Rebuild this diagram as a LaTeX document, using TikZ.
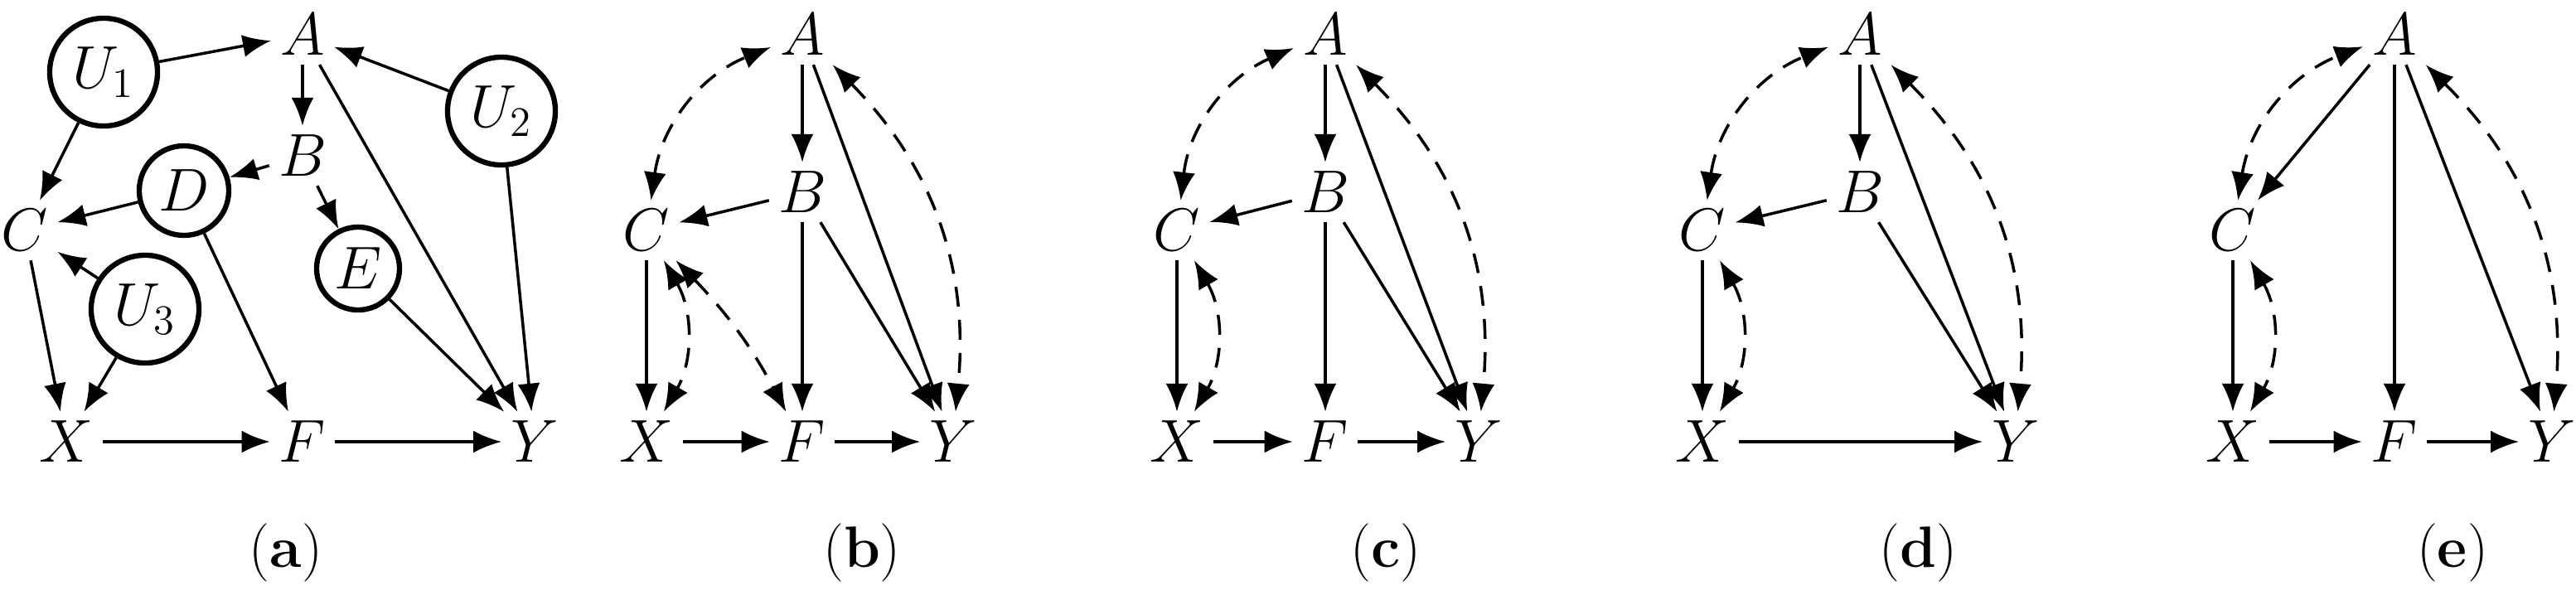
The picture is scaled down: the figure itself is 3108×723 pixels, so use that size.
\documentclass[tikz,border=0pt]{standalone}
\usetikzlibrary{arrows.meta}
\begin{document}
\begin{tikzpicture}[x=0.01cm,y=-0.01cm,
  v/.style={inner sep=3pt,font=\fontsize{20}{24}\selectfont},
  lat/.style={circle,draw,line width=1.8pt,inner sep=0pt,font=\fontsize{20}{24}\selectfont},
  e/.style={-{Latex[length=3.4mm,width=2.7mm]},line width=1pt},
  bi/.style={{Latex[length=3.4mm,width=2.7mm]}-{Latex[length=3.4mm,width=2.7mm]},line width=1pt,dash pattern=on 2.4mm off 1.6mm},
  caption/.style={font=\fontsize{20}{24}\selectfont}]
\useasboundingbox (0,0) rectangle (3108,723);
% (a)
\node[v] (aA) at (365,42) {$A$};
\node[v] (aB) at (365,188) {$B$};
\node[v] (aC) at (30,278) {$C$};
\node[v] (aX) at (80,533) {$X$};
\node[v] (aF) at (365,533) {$F$};
\node[v] (aY) at (645,533) {$Y$};
\node[lat,minimum size=1.08cm] (aD) at (222,230) {$D$};
\node[lat,minimum size=1.0cm] (aE) at (432,324) {$E$};
\node[lat,minimum size=1.3cm] (aU1) at (125,87) {$U_1$};
\node[lat,minimum size=1.3cm] (aU2) at (605,134) {$U_2$};
\node[lat,minimum size=1.3cm] (aU3) at (175,373) {$U_3$};
\draw[e] (aU1)--(aA); \draw[e] (aU1)--(aC); \draw[e] (aU2)--(aA); \draw[e] (aU2)--(aY);
\draw[e] (aA)--(aB); \draw[e] (aA)--(aY); \draw[e] (aB)--(aD); \draw[e] (aB)--(aE);
\draw[e] (aD)--(aC); \draw[e] (aD)--(aF); \draw[e] (aU3)--(aC); \draw[e] (aU3)--(aX);
\draw[e] (aC)--(aX); \draw[e] (aE)--(aY); \draw[e] (aX)--(aF); \draw[e] (aF)--(aY);
\node[caption] (la) at (345,667) {(\textbf{a})};
% (b)
\node[v] (bA) at (968,42) {$A$};
\node[v] (bB) at (968,232) {$B$};
\node[v] (bC) at (780,278) {$C$};
\node[v] (bX) at (780,533) {$X$};
\node[v] (bF) at (968,533) {$F$};
\node[v] (bY) at (1150,533) {$Y$};
\draw[e] (bA)--(bB); \draw[e] (bA)--(bY); \draw[e] (bB)--(bC); \draw[e] (bB)--(bF);
\draw[e] (bB)--(bY); \draw[e] (bC)--(bX); \draw[e] (bX)--(bF); \draw[e] (bF)--(bY);
\draw[bi] (bC) to[bend left=30] (bA);
\draw[bi] (bA) to[bend left=25] (bY);
\draw[bi] (bC) to[out=-60,in=60] (bX);
\draw[bi] (bC) to[bend left=8] (bF);
\node[caption] (lb) at (1040,667) {(\textbf{b})};
% (c)
\node[v] (cA) at (1599,42) {$A$};
\node[v] (cB) at (1599,232) {$B$};
\node[v] (cC) at (1420,278) {$C$};
\node[v] (cX) at (1420,533) {$X$};
\node[v] (cF) at (1599,533) {$F$};
\node[v] (cY) at (1784,533) {$Y$};
\draw[e] (cA)--(cB); \draw[e] (cA)--(cY); \draw[e] (cB)--(cC); \draw[e] (cB)--(cF);
\draw[e] (cB)--(cY); \draw[e] (cC)--(cX); \draw[e] (cX)--(cF); \draw[e] (cF)--(cY);
\draw[bi] (cC) to[bend left=30] (cA);
\draw[bi] (cA) to[bend left=25] (cY);
\draw[bi] (cC) to[out=-60,in=60] (cX);
\node[caption] (lc) at (1672,667) {(\textbf{c})};
% (d)
\node[v] (dA) at (2244,42) {$A$};
\node[v] (dB) at (2244,232) {$B$};
\node[v] (dC) at (2054,278) {$C$};
\node[v] (dX) at (2054,533) {$X$};
\node[v] (dY) at (2432,533) {$Y$};
\draw[e] (dA)--(dB); \draw[e] (dA)--(dY); \draw[e] (dB)--(dC);
\draw[e] (dB)--(dY); \draw[e] (dC)--(dX); \draw[e] (dX)--(dY);
\draw[bi] (dC) to[bend left=30] (dA);
\draw[bi] (dA) to[bend left=25] (dY);
\draw[bi] (dC) to[out=-60,in=60] (dX);
\node[caption] (ld) at (2314,667) {(\textbf{d})};
% (e)
\node[v] (eA) at (2889,42) {$A$};
\node[v] (eC) at (2694,278) {$C$};
\node[v] (eX) at (2694,533) {$X$};
\node[v] (eF) at (2889,533) {$F$};
\node[v] (eY) at (3079,533) {$Y$};
\draw[e] (eA)--(eC); \draw[e] (eA)--(eF); \draw[e] (eA)--(eY);
\draw[e] (eC)--(eX); \draw[e] (eX)--(eF); \draw[e] (eF)--(eY);
\draw[bi] (eC) to[bend left=30] (eA);
\draw[bi] (eA) to[bend left=25] (eY);
\draw[bi] (eC) to[out=-60,in=60] (eX);
\node[caption] (le) at (2959,667) {(\textbf{e})};
\end{tikzpicture}
\end{document}
